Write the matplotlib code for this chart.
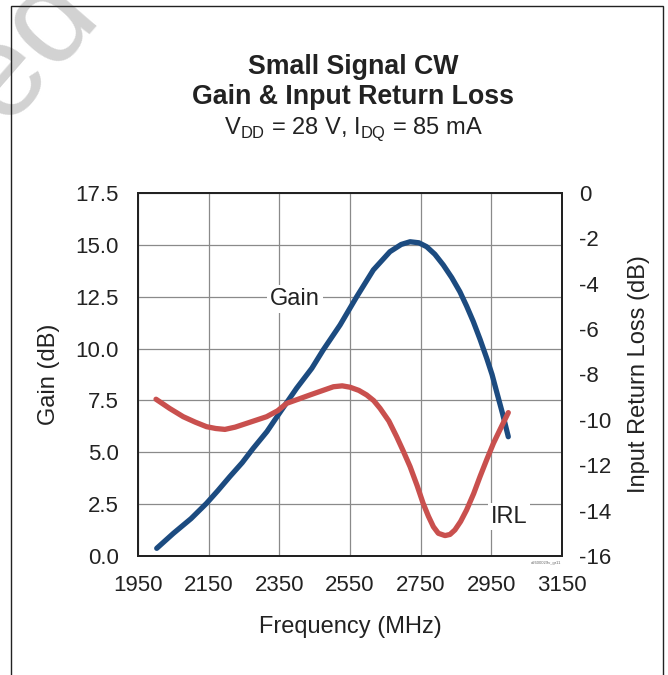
import matplotlib
matplotlib.use("Agg")
import matplotlib.pyplot as plt
from matplotlib.patches import Rectangle

plt.rcParams['font.family'] = ['Liberation Sans', 'DejaVu Sans']
plt.rcParams['axes.unicode_minus'] = False

# Gain (dB) ueber Frequenz (MHz)
gain_freq = [2003, 2050, 2100, 2144, 2176, 2210, 2245, 2276, 2315, 2350,
             2399, 2442, 2474, 2522, 2569, 2616, 2663, 2695, 2720, 2745,
             2767, 2790, 2814, 2838, 2861, 2880, 2899, 2918, 2937, 2952,
             2965, 2982, 2998]
gain_db = [0.37, 1.09, 1.8, 2.54, 3.15, 3.83, 4.5, 5.19, 6.0, 6.88,
           8.09, 9.05, 9.93, 11.14, 12.5, 13.79, 14.67, 15.02, 15.15, 15.1,
           14.91, 14.55, 14.03, 13.42, 12.74, 12.05, 11.3, 10.45, 9.53, 8.75,
           7.92, 6.85, 5.75]

# Input Return Loss (dB)
irl_freq = [2001, 2040, 2078, 2112, 2144, 2170, 2196, 2225, 2258, 2314,
            2345, 2371, 2405, 2437, 2470, 2503, 2528, 2550, 2575, 2597,
            2617, 2635, 2660, 2682, 2700, 2720, 2740, 2757, 2772, 2786,
            2800, 2819, 2833, 2847, 2863, 2880, 2900, 2918, 2937, 2956,
            2977, 2998]
irl_db = [-9.09, -9.5, -9.86, -10.1, -10.3, -10.38, -10.42, -10.32, -10.15, -9.86,
          -9.6, -9.27, -9.08, -8.9, -8.72, -8.54, -8.5, -8.56, -8.7, -8.9,
          -9.15, -9.49, -10.05, -10.74, -11.35, -12.06, -12.9, -13.68, -14.25, -14.71,
          -15.0, -15.1, -15.05, -14.85, -14.48, -13.97, -13.25, -12.5, -11.75, -11.03,
          -10.35, -9.68]

x_ticks = [1950, 2150, 2350, 2550, 2750, 2950, 3150]
gain_ticks = [0.0, 2.5, 5.0, 7.5, 10.0, 12.5, 15.0, 17.5]
irl_ticks = [0, -2, -4, -6, -8, -10, -12, -14, -16]

fig = plt.figure(figsize=(6.68, 6.75), dpi=100)

# Rahmen um die Grafik
fig.patches.append(Rectangle((10.5/668, -0.1), 652/668, 0.1 + 1 - 5.5/675,
                             transform=fig.transFigure, fill=False,
                             edgecolor='#222222', linewidth=1.0))

# Wasserzeichen (nur teilweise sichtbar)
fig.text(0.156, 0.972, "Archived", fontsize=95, color='#d2d2d2', rotation=49,
         rotation_mode='anchor', ha='right', va='baseline', zorder=0)

ax = fig.add_axes([138/668, 1 - 556/675, 424/668, 363/675])
ax2 = ax.twinx()

ax.plot(gain_freq, gain_db, color='#1c4b80', linewidth=3.8,
        solid_capstyle='round', solid_joinstyle='round', zorder=3)
ax2.plot(irl_freq, irl_db, color='#c9504e', linewidth=3.8,
         solid_capstyle='round', solid_joinstyle='round', zorder=3)

ax.set_xlim(1950, 3150)
ax.set_ylim(0, 17.5)
ax2.set_ylim(-16, 0)
ax.set_xticks(x_ticks)
ax.set_yticks(gain_ticks)
ax.set_yticklabels(["%.1f" % v for v in gain_ticks])
ax2.set_yticks(irl_ticks)

ax.grid(True, color='#8a8a8a', linewidth=0.9)
ax.set_axisbelow(True)
ax.tick_params(axis='both', length=0, labelsize=16, colors='#222222')
ax.tick_params(axis='y', pad=14)
ax.tick_params(axis='x', pad=14)
ax2.tick_params(axis='y', length=0, labelsize=16, pad=12, colors='#222222')

for a in (ax, ax2):
    for s in a.spines.values():
        s.set_linewidth(1.4)
        s.set_color('#222222')

ax.set_xlabel("Frequency (MHz)", fontsize=17, color='#222222', labelpad=14)
ax.set_ylabel("Gain (dB)", fontsize=17, color='#222222', labelpad=11)
ax2.set_ylabel("Input Return Loss (dB)", fontsize=17, color='#222222', labelpad=12)

# Kurvenbeschriftung
ax.text(2394, 12.4, "Gain", fontsize=17, ha='center', va='center', color='#222222',
        bbox=dict(facecolor='white', edgecolor='none', pad=2), zorder=4)
ax.text(3000, 1.9, "IRL", fontsize=17, ha='center', va='center', color='#222222',
        bbox=dict(facecolor='white', edgecolor='none', pad=2), zorder=4)

# Titel
fig.text(353/668, 1 - 73.5/675, "Small Signal CW", fontsize=19.3, fontweight='bold',
         ha='center', va='baseline', color='#222222')
fig.text(353/668, 1 - 104/675, "Gain & Input Return Loss", fontsize=19.3,
         fontweight='bold', ha='center', va='baseline', color='#222222')
fig.text(353/668, 1 - 133.5/675, r"V$_{\mathregular{DD}}$ = 28 V, I$_{\mathregular{DQ}}$ = 85 mA",
         fontsize=17, ha='center', va='baseline', color='#222222')

fig.text(561/668, 1 - 563/675, "a2600029v_gr11", fontsize=3, ha='right', va='center',
         color='#666666')

fig.savefig("out.png", dpi=100)
